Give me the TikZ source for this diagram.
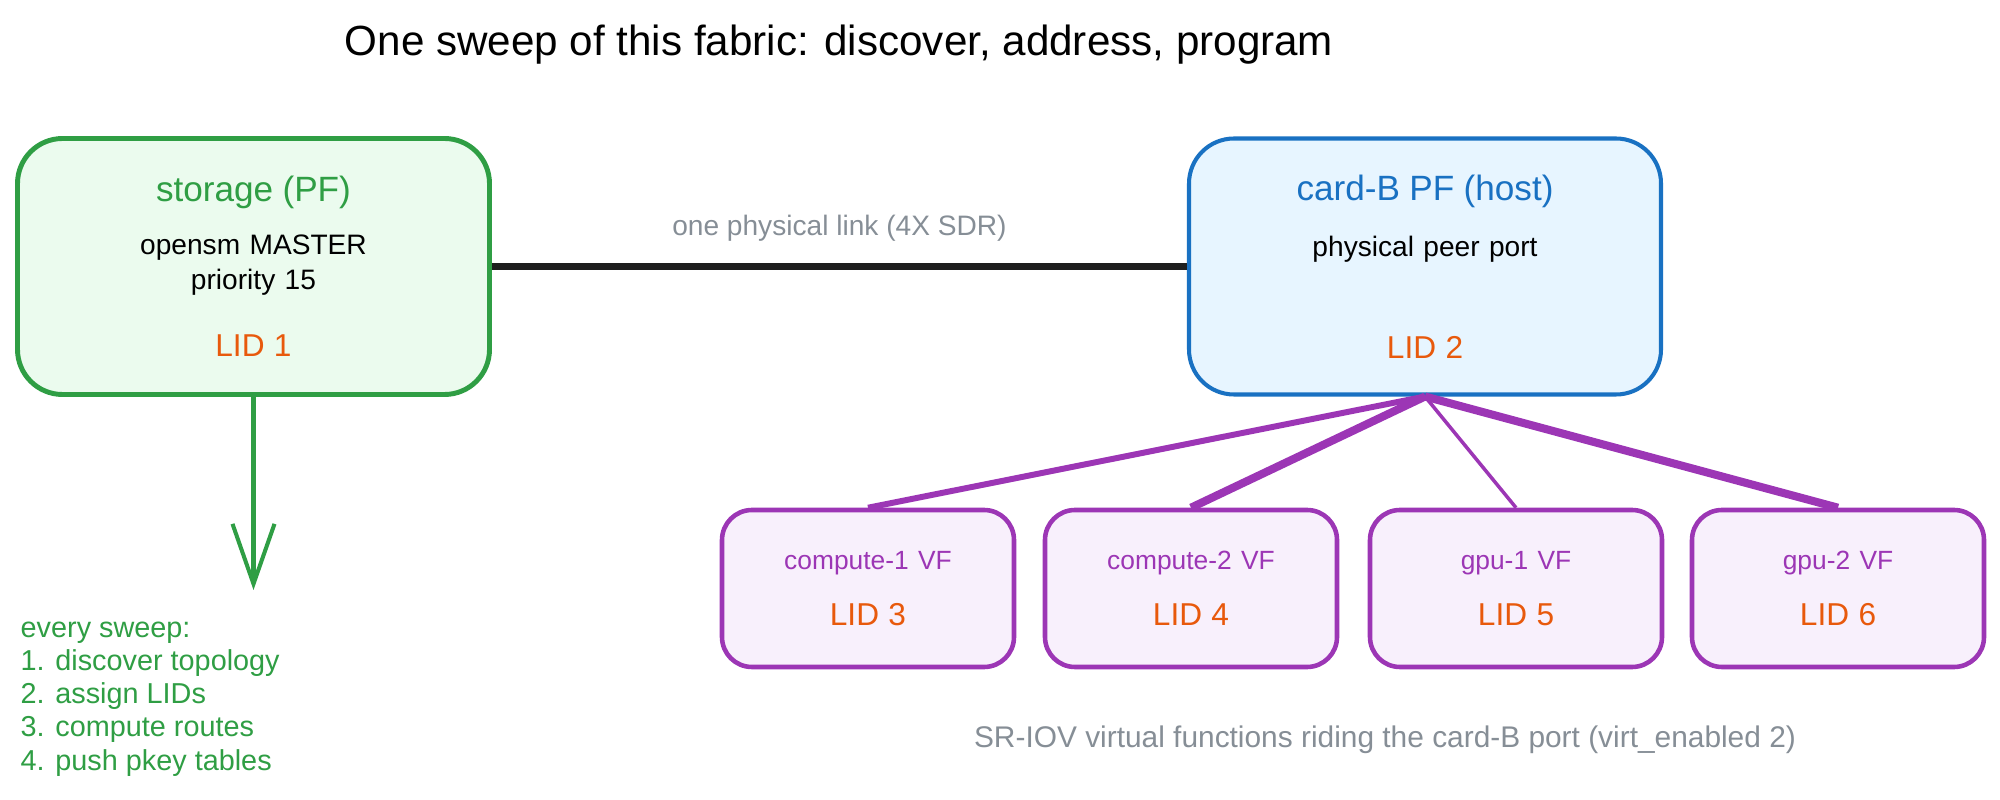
\documentclass[tikz,border=0pt]{standalone}
\usepackage{fontspec}
\setmainfont{Liberation Sans}
\usepackage{tikz}
\usetikzlibrary{arrows.meta, positioning}
\usepackage{xcolor}
\definecolor{pfgreen}{HTML}{2F9E44}
\definecolor{pfgreenbg}{HTML}{EBFBEE}
\definecolor{hostblue}{HTML}{1971C2}
\definecolor{hostbluebg}{HTML}{E7F5FF}
\definecolor{vfpurple}{HTML}{9C36B5}
\definecolor{vfpurplebg}{HTML}{F8F0FC}
\definecolor{lidorange}{HTML}{E8590C}
\definecolor{notegray}{HTML}{868E96}
\definecolor{inkblack}{HTML}{1E1E1E}
\newcommand{\headfont}{\fontsize{10}{12}\selectfont}
\newcommand{\lidfont}{\fontsize{9}{10}\selectfont\color{lidorange}}
\newcommand{\vffont}{\fontsize{7.5}{9}\selectfont\color{vfpurple}}
\tikzstyle{pfbox}   = [rectangle, rounded corners=0.45cm, minimum width=4.72cm, minimum height=2.56cm,
                       text centered, text width=4.4cm, draw=pfgreen, fill=pfgreenbg, line width=1.4pt]
\tikzstyle{hostbox} = [pfbox, draw=hostblue, fill=hostbluebg, line width=1.15pt]
\tikzstyle{vfbox}   = [rectangle, rounded corners=0.3cm, minimum width=2.92cm, minimum height=1.57cm,
                       text centered, text width=2.6cm, draw=vfpurple, fill=vfpurplebg, line width=1.3pt]
\tikzstyle{note}    = [text=notegray, font=\fontsize{8}{10}\selectfont]
\tikzstyle{link}    = [line width=2.2pt, draw=inkblack]
\tikzstyle{vflink}  = [draw=vfpurple, line width=1.7pt]
\tikzstyle{arrow}   = [draw=pfgreen, line width=1.15pt, -{Straight Barb[length=6mm, width=4.2mm]}]

\begin{document}
\begin{tikzpicture}[every node/.style={font=\fontsize{8}{10}\selectfont}]
  \useasboundingbox (0,0) rectangle (20,-8);

  % Heading
  \node (title) [font=\fontsize{12}{14}\selectfont] at (8.39,-0.45) {One sweep of this fabric: discover, address, program};

  % Physical functions
  \node (storage) [pfbox] at (2.535,-2.665)
    {{\headfont\color{pfgreen}storage (PF)}\\[5pt]opensm MASTER\\priority 15\\[9pt]{\lidfont LID 1}};
  \node (cardB) [hostbox] at (14.25,-2.665)
    {{\headfont\color{hostblue}card-B PF (host)}\\[6pt]physical peer port\\[19pt]{\lidfont LID 2}};

  % Virtual functions
  \node (vf1) [vfbox] at (8.68,-5.885)  {{\vffont compute-1 VF}\\[6pt]{\lidfont LID 3}};
  \node (vf2) [vfbox] at (11.91,-5.885) {{\vffont compute-2 VF}\\[6pt]{\lidfont LID 4}};
  \node (vf3) [vfbox] at (15.16,-5.885) {{\vffont gpu-1 VF}\\[6pt]{\lidfont LID 5}};
  \node (vf4) [vfbox] at (18.38,-5.885) {{\vffont gpu-2 VF}\\[6pt]{\lidfont LID 6}};

  % Notes
  \node (sweep) [anchor=north west, inner sep=0, text=pfgreen, align=left, font=\fontsize{8.2}{9.45}\selectfont] at (0.2,-6.21)
    {every sweep:\\1. discover topology\\2. assign LIDs\\3. compute routes\\4. push pkey tables};
  \node (vfnote) [note, font=\fontsize{8.5}{10}\selectfont] at (13.85,-7.40) {SR-IOV virtual functions riding the card-B port (virt\_enabled 2)};
  \coordinate (sweepend) at (2.535,-5.9);

  % storage -> card-B
  \draw[link] (storage) -- node[note, above=1mm] {one physical link (4X SDR)} (cardB);
  % card-B -> VFs
  \draw[vflink] (cardB.south) -- (vf1.north);
  \draw[vflink, line width=2.3pt] (cardB.south) -- (vf2.north);
  \draw[vflink, line width=1pt] (cardB.south) -- (vf3.north);
  \draw[vflink, line width=2.3pt] (cardB.south) -- (vf4.north);
  % storage -> sweep steps
  \draw[arrow] (storage) -- (sweepend);

\end{tikzpicture}
\end{document}
